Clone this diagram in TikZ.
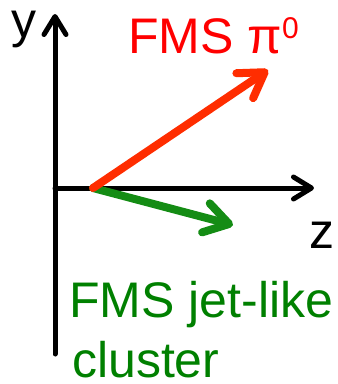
\documentclass[tikz,border=0pt]{standalone}
\usepackage{fontspec}
\setmainfont{Liberation Sans}
\usetikzlibrary{arrows.meta}
\definecolor{txtred}{RGB}{255,0,0}
\definecolor{arrred}{RGB}{255,45,0}
\definecolor{txtgreen}{RGB}{0,128,0}
\definecolor{arrgreen}{RGB}{20,140,20}
\begin{document}
\begin{tikzpicture}[x=1pt,y=-1pt,
  axis/.style={line width=5pt,black,line cap=round,-{Straight Barb[length=18pt,width=22pt,round]}},
  vec/.style={line width=8pt,line cap=round,-{Straight Barb[length=24pt,width=30pt,round]}},
  lbl/.style={inner sep=0pt,anchor=base west,font=\fontsize{50}{50}\selectfont}]
\useasboundingbox (0,0) rectangle (338,384);
\coordinate (o) at (55,188);
\coordinate (ybot) at (55,354);
\coordinate (ytop) at (55,14);
\coordinate (zend) at (314,188);
\coordinate (vs) at (93,188);
\coordinate (rend) at (268,70);
\coordinate (gend) at (233,225);
\draw[axis] (ybot) -- (ytop);
\draw[axis] (o) -- (zend);
\draw[vec,arrgreen] (vs) -- (gend);
\draw[vec,arrred] (vs) -- (rend);
\node[lbl] (ylab) at (11,37) {y};
\node[lbl] (zlab) at (309,248) {z};
\node[lbl,text=txtred] (pilab) at (128,53) {FMS π\raisebox{15pt}{\fontsize{30}{30}\selectfont 0}};
\node[lbl,text=txtgreen] (jlab1) at (69,317) {FMS jet-like};
\node[lbl,text=txtgreen] (jlab2) at (72,377) {cluster};
\end{tikzpicture}
\end{document}
